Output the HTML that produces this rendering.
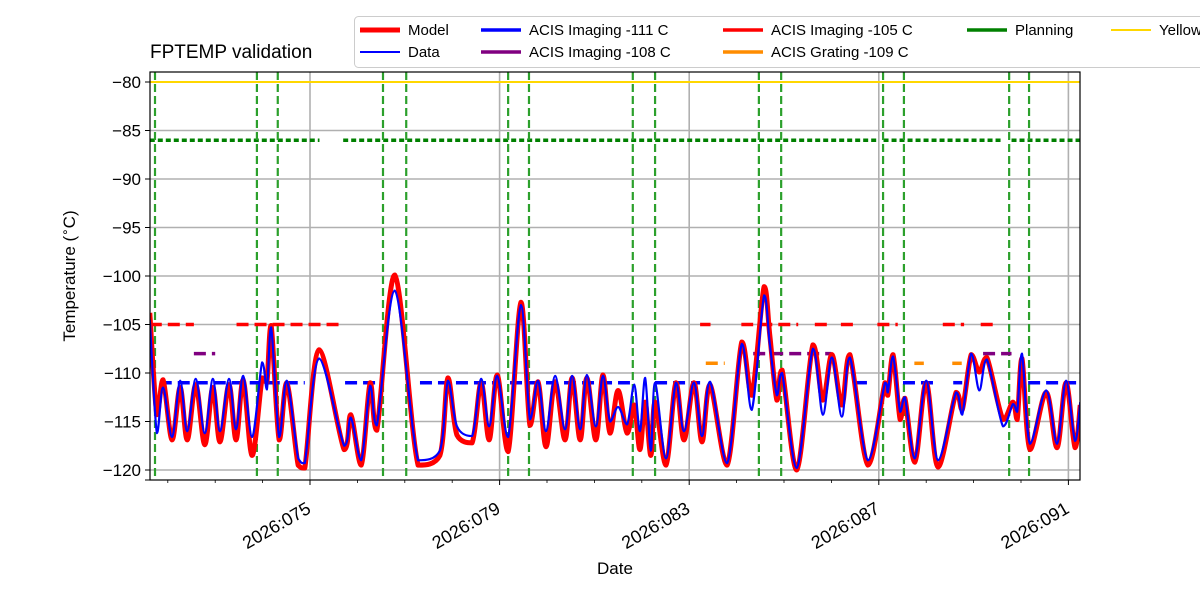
<!DOCTYPE html>
<html><head><meta charset="utf-8"><style>
body{margin:0;background:#fff;width:1200px;height:600px;overflow:hidden}
svg text{font-family:"Liberation Sans","DejaVu Sans",sans-serif;}
</style></head><body>
<svg id="chart" width="1200" height="600" xmlns="http://www.w3.org/2000/svg">
<defs><clipPath id="pc"><rect x="150" y="72" width="930" height="408"/></clipPath></defs>
<text x="150" y="58" font-size="19">FPTEMP validation</text>
<g id="grid"></g>
<g id="plot" clip-path="url(#pc)"></g>
<rect x="150" y="72" width="930" height="408" fill="none" stroke="#000" stroke-width="1.2"/>
<g id="axes"></g>
<text x="615" y="574" font-size="17" text-anchor="middle">Date</text>
<text transform="translate(75,276) rotate(-90)" font-size="17" text-anchor="middle">Temperature (<tspan font-size="12" dy="-6">∘</tspan><tspan dy="6">C)</tspan></text>
<g id="legend"></g>
</svg>
<script>
const modelDays=[71.62,71.77,71.90,72.09,72.26,72.41,72.59,72.78,72.95,73.10,73.29,73.44,73.59,73.78,73.99,74.09,74.18,74.35,74.51,74.75,74.89,75.19,75.72,75.86,76.08,76.27,76.41,76.79,77.28,77.74,77.91,78.10,78.42,78.61,78.78,78.95,79.18,79.45,79.64,79.81,79.98,80.17,80.38,80.53,80.70,80.84,81.03,81.18,81.33,81.50,81.69,81.84,81.96,82.07,82.19,82.28,82.51,82.72,82.89,83.10,83.27,83.44,83.80,84.11,84.32,84.58,84.70,84.85,84.96,85.27,85.61,85.82,86.01,86.22,86.39,86.77,87.13,87.19,87.30,87.45,87.55,87.76,88.00,88.25,88.63,88.76,88.95,89.12,89.28,89.62,89.83,89.92,90.02,90.19,90.53,90.76,90.95,91.14,91.25];
const modelTemps=[-103.8,-114.3,-110.7,-116.9,-111.5,-116.9,-111.2,-117.4,-111.5,-117.1,-111.2,-116.9,-110.7,-118.5,-110.5,-111.0,-105.1,-116.9,-111.0,-119.5,-119.8,-107.6,-117.9,-114.3,-119.5,-111.0,-115.9,-99.9,-119.5,-118.5,-110.5,-116.4,-117.2,-111.0,-116.9,-110.2,-118.1,-102.7,-115.4,-110.9,-117.6,-110.9,-116.9,-110.5,-116.9,-110.5,-116.9,-110.2,-116.2,-111.8,-116.2,-113.3,-117.9,-113.0,-118.5,-113.0,-119.5,-111.0,-116.9,-111.0,-117.1,-111.2,-119.5,-106.8,-112.3,-101.1,-106.1,-112.8,-109.7,-120.0,-107.1,-112.8,-108.1,-113.3,-108.1,-119.5,-111.0,-112.3,-108.1,-114.8,-112.6,-119.2,-111.0,-119.7,-112.0,-113.8,-108.1,-109.9,-108.4,-114.8,-113.0,-114.8,-108.5,-117.9,-112.0,-117.7,-111.0,-117.7,-113.3];
const dataTemps=[-104.5,-116.2,-111.5,-116.6,-110.8,-116.0,-110.6,-116.2,-110.6,-116.0,-110.6,-115.8,-110.3,-116.6,-108.9,-111.7,-105.3,-116.6,-110.8,-118.8,-119.3,-108.5,-117.5,-114.6,-119.0,-111.3,-115.4,-101.5,-119.0,-118.0,-110.8,-115.5,-116.5,-110.6,-115.5,-110.3,-116.6,-103.0,-114.8,-110.8,-116.0,-110.3,-115.8,-110.3,-115.8,-110.2,-115.5,-110.3,-115.0,-113.5,-115.3,-111.2,-116.0,-110.5,-118.0,-111.0,-118.8,-111.0,-116.0,-111.0,-116.5,-110.9,-119.3,-107.0,-113.8,-102.0,-107.0,-112.3,-110.0,-119.8,-107.5,-114.3,-108.4,-114.5,-108.4,-119.0,-111.0,-112.0,-108.3,-114.0,-112.5,-118.8,-110.8,-119.0,-112.0,-114.3,-108.0,-111.8,-108.6,-115.5,-113.2,-114.0,-108.0,-117.3,-111.8,-117.3,-110.8,-117.0,-113.0];
const red105=[[71.62,72.55],[73.45,75.72],[83.23,83.45],[84.1,84.35],[84.5,85.3],[85.65,86.0],[86.2,86.55],[86.97,87.4],[88.35,88.8],[89.15,89.45]];
const purple108=[[72.55,73.0],[84.35,86.0],[89.2,89.8]];
const orange109=[[83.35,83.75],[87.75,87.95],[88.55,88.75]];
const blue111=[[71.83,74.89],[75.74,76.48],[77.32,79.01],[79.22,81.75],[82.28,83.23],[86.5,86.75],[87.51,88.23],[88.57,88.76],[90.15,91.2]];
const green86=[[71.62,75.2],[75.7,87.0],[87.1,89.6],[89.8,91.25]];
const yellowLevel=-80;
const planningLines=[71.73,73.88,74.32,76.54,77.03,79.18,79.62,81.81,82.28,84.47,84.94,87.09,87.53,89.75,90.17];
const yTicks=[-80,-85,-90,-95,-100,-105,-110,-115,-120];
const xTicks=[75,79,83,87,91];
const xTickLabels=["2026:075","2026:079","2026:083","2026:087","2026:091"];

const NS="http://www.w3.org/2000/svg";
const X=d=>310+(d-75)*47.4;
const Y=t=>82+(-80-t)*9.7;
function mk(tag,attrs,parent){const e=document.createElementNS(NS,tag);for(const k in attrs)e.setAttribute(k,attrs[k]);parent.appendChild(e);return e;}
const grid=document.getElementById('grid'),plot=document.getElementById('plot'),axes=document.getElementById('axes'),leg=document.getElementById('legend');
yTicks.forEach(t=>{const l=mk('line',{x1:150,x2:1080,y1:Y(t),y2:Y(t),stroke:'#b0b0b0','stroke-width':1.6},grid);

mk('line',{x1:145,x2:150,y1:Y(t),y2:Y(t),stroke:'#000'},axes);
const tx=mk('text',{x:141,y:Y(t)+6,'font-size':17,'text-anchor':'end'},axes);tx.textContent='\u2212'+Math.abs(t);
});
xTicks.forEach((d,i)=>{const l=mk('line',{x1:X(d),x2:X(d),y1:72,y2:480,stroke:'#b0b0b0','stroke-width':1.6},grid);

mk('line',{x1:X(d),x2:X(d),y1:480,y2:485,stroke:'#000'},axes);
const tx=mk('text',{transform:`translate(${X(d)+2},${512}) rotate(-30)`,'font-size':18,'text-anchor':'end'},axes);tx.textContent=xTickLabels[i];
});
for(let d=72;d<=91;d++){if(xTicks.includes(d))continue;mk('line',{x1:X(d),x2:X(d),y1:480,y2:483,stroke:'#000','stroke-width':0.8},axes);}
function segs(arr,t,col,w,dash,name){arr.forEach(s=>{const l=mk('line',{x1:X(s[0]),x2:X(s[1]),y1:Y(t),y2:Y(t),stroke:col,'stroke-width':w,'stroke-dasharray':dash},plot);
});}
const yl=mk('line',{x1:150,x2:1080,y1:Y(yellowLevel),y2:Y(yellowLevel),stroke:'#ffd700','stroke-width':2},plot);

segs(green86,-86,'#008000',3.5,'5,3','planning-segment');
planningLines.forEach(d=>{const l=mk('line',{x1:X(d),x2:X(d),y1:72,y2:480,stroke:'#2ca02c','stroke-width':2.2,'stroke-dasharray':'8,4'},plot);
});
segs(red105,-105,'#ff0000',3.5,'12,6','acis-imaging-105-segment');
segs(purple108,-108,'#800080',3.5,'12,6','acis-imaging-108-segment');
segs(orange109,-109,'#ff8c00',3.5,'12,6','acis-grating-109-segment');
segs(blue111,-111,'#0000ff',3.5,'12,6','acis-imaging-111-segment');
function smooth(xs,ys){let p=`M${X(xs[0])},${Y(ys[0])}`;for(let i=0;i<xs.length-1;i++){const x0=X(xs[Math.max(0,i-1)]),y0=Y(ys[Math.max(0,i-1)]),x1=X(xs[i]),y1=Y(ys[i]),x2=X(xs[i+1]),y2=Y(ys[i+1]),x3=X(xs[Math.min(xs.length-1,i+2)]),y3=Y(ys[Math.min(xs.length-1,i+2)]);
const c1x=x1+(x2-x0)/6,c2x=x2-(x3-x1)/6;let c1y=y1+(y2-y0)/6,c2y=y2-(y3-y1)/6;c1y=Math.min(Math.max(c1y,Math.min(y1,y2)),Math.max(y1,y2));c2y=Math.min(Math.max(c2y,Math.min(y1,y2)),Math.max(y1,y2));
p+=` C${c1x},${c1y} ${c2x},${c2y} ${x2},${y2}`;}return p;}
const mp=mk('path',{d:smooth(modelDays,modelTemps),fill:'none',stroke:'#ff0000','stroke-width':5,'stroke-linejoin':'round'},plot);

const dp=mk('path',{d:smooth(modelDays,dataTemps),fill:'none',stroke:'#0000ff','stroke-width':2.2,'stroke-linejoin':'round'},plot);

mk('line',{x1:150,x2:145,y1:480,y2:480,stroke:'#000'},axes);
// legend
const lb=mk('rect',{x:354.5,y:16.5,width:860,height:51,rx:4,fill:'#fff',stroke:'#ccc','fill-opacity':0.85},leg);

const entries=[[360,30,'Model','#ff0000',5],[360,52,'Data','#0000ff',2],[481,30,'ACIS Imaging -111 C','#0000ff',3.5],[481,52,'ACIS Imaging -108 C','#800080',3.5],[723,30,'ACIS Imaging -105 C','#ff0000',3.5],[723,52,'ACIS Grating -109 C','#ff8c00',3.5],[967,30,'Planning','#008000',3.5],[1111,30,'Yellow','#ffd700',2]];
entries.forEach(e=>{const g=mk('g',{},leg);
mk('line',{x1:e[0],x2:e[0]+40,y1:e[1],y2:e[1],stroke:e[3],'stroke-width':e[4]},g);
const t=mk('text',{x:e[0]+48,y:e[1]+5,'font-size':15},g);t.textContent=e[2];});
</script>
</body></html>
